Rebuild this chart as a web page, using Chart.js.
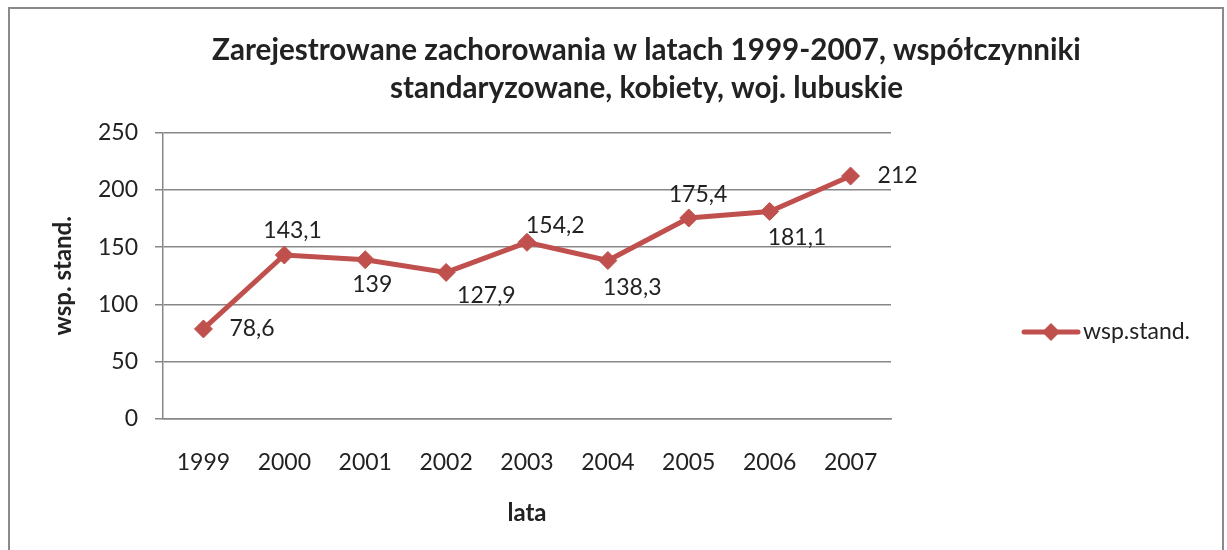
<!DOCTYPE html>
<html>
<head>
<meta charset="utf-8">
<script src="https://cdn.jsdelivr.net/npm/chart.js@4/dist/chart.umd.min.js"></script>
<style>
  html, body { margin: 0; padding: 0; background: #fff; }
  #wrap { position: absolute; left: 0; top: 0; width: 1227px; height: 550px; }
</style>
</head>
<body>
<div id="wrap"><canvas id="chart"></canvas></div>
<script>
// dane z wykresu
const years = ['1999', '2000', '2001', '2002', '2003', '2004', '2005', '2006', '2007'];
const wspStand = [78.6, 143.1, 139, 127.9, 154.2, 138.3, 175.4, 181.1, 212];
const yTicks = [0, 50, 100, 150, 200, 250];
const seriesName = 'wsp.stand.';
const chartTitle = ['Zarejestrowane zachorowania w latach 1999-2007, współczynniki', 'standaryzowane, kobiety, woj. lubuskie'];

// przesunięcia etykiet danych względem punktu [dx lewej krawędzi, dy środka]
const labelOffsets = [[26, 0], [-21, -24], [-13, 25], [11, 23], [-1, -17], [-5, 27], [-20, -23], [-2, 26], [27, 0]];

const RED = '#C0504D';
const GRID = '#878787';
const TEXT = '#222222';
const FONT = 'Lato, Calibri, sans-serif';

/**
 * Ramka wokół całego wykresu
 */
const borderPlugin = {
    id: 'outerBorder',
    beforeDraw(chart) {
        const ctx = chart.ctx;
        ctx.save();
        ctx.strokeStyle = '#8a8a8a';
        ctx.lineWidth = 2;
        ctx.strokeRect(9, 8, 1214, 570);
        ctx.restore();
    }
};

/**
 * Etykiety wartości przy punktach (format z przecinkiem)
 */
const valueLabels = {
    id: 'valueLabels',
    afterDatasetsDraw(chart) {
        const ctx = chart.ctx;
        const meta = chart.getDatasetMeta(0);
        ctx.save();
        ctx.font = '23px ' + FONT;
        ctx.fillStyle = TEXT;
        ctx.textAlign = 'left';
        ctx.textBaseline = 'middle';
        meta.data.forEach((pt, i) => {
            const { x, y } = pt.getProps(['x', 'y'], true);
            const txt = String(wspStand[i]).replace('.', ',');
            const off = labelOffsets[i];
            ctx.fillText(txt, x + off[0], y + off[1]);
        });
        ctx.restore();
    }
};

/**
 * Legenda po prawej stronie (rysowana ręcznie)
 */
const sideLegend = {
    id: 'sideLegend',
    afterDraw(chart) {
        const ctx = chart.ctx;
        const ds = chart.data.datasets[0];
        const y = 332;
        ctx.save();
        ctx.strokeStyle = ds.borderColor;
        ctx.lineWidth = 5;
        ctx.lineCap = 'round';
        ctx.beginPath();
        ctx.moveTo(1024, y);
        ctx.lineTo(1078, y);
        ctx.stroke();
        ctx.fillStyle = ds.pointBackgroundColor;
        ctx.beginPath();
        ctx.moveTo(1051, y - 9);
        ctx.lineTo(1060, y);
        ctx.lineTo(1051, y + 9);
        ctx.lineTo(1042, y);
        ctx.closePath();
        ctx.fill();
        ctx.font = '23px ' + FONT;
        ctx.fillStyle = TEXT;
        ctx.textBaseline = 'middle';
        ctx.fillText(ds.label, 1083, y);
        ctx.restore();
    }
};

const ctx = document.getElementById('chart');
new Chart(ctx, {
    type: 'line',
    data: {
        labels: years,
        datasets: [{
            label: seriesName,
            data: wspStand,
            borderColor: RED,
            backgroundColor: RED,
            borderWidth: 5,
            tension: 0,
            pointStyle: 'rectRot',
            pointRadius: 9,
            pointHoverRadius: 9,
            pointBackgroundColor: RED,
            pointBorderColor: RED,
            pointBorderWidth: 1
        }]
    },
    options: {
        responsive: true,
        maintainAspectRatio: false,
        animation: false,
        events: [],
        layout: { padding: { left: 66, right: 0, top: 0, bottom: 0 } },
        plugins: {
            legend: { display: false },
            tooltip: { enabled: false },
            title: {
                display: true,
                text: chartTitle,
                color: TEXT,
                font: { family: FONT, size: 29.6, weight: 'bold', lineHeight: '38px' },
                padding: { top: 31, bottom: 25.5 }
            }
        },
        scales: {
            x: {
                offset: true,
                grid: { display: false, drawTicks: false },
                border: { display: true, color: GRID, width: 1.5 },
                ticks: { color: TEXT, font: { family: FONT, size: 23 }, padding: 30, maxRotation: 0 },
                title: {
                    display: true,
                    text: 'lata',
                    color: TEXT,
                    font: { family: FONT, size: 24, weight: 'bold' },
                    padding: { top: 0, bottom: 22.6 }
                },
                afterFit(scale) { scale.height = 131; }
            },
            y: {
                min: 0,
                max: 250,
                afterBuildTicks(scale) { scale.ticks = yTicks.map(v => ({ value: v })); },
                grid: { color: GRID, lineWidth: 1.5, tickLength: 8, drawTicks: true },
                border: { display: true, color: GRID, width: 1.5 },
                ticks: { color: TEXT, font: { family: FONT, size: 23 }, padding: 17 },
                title: {
                    display: true,
                    text: 'wsp. stand.',
                    color: TEXT,
                    font: { family: FONT, size: 24, weight: 'bold' },
                    padding: { top: -16.9, bottom: 0 }
                },
                afterFit(scale) { scale.width = 97; }
            },
            // pusta oś po prawej, rezerwuje miejsce na legendę
            legendSpace: {
                type: 'linear',
                position: 'right',
                display: true,
                grid: { display: false },
                border: { display: false },
                ticks: { display: false },
                afterFit(scale) { scale.width = 336; }
            }
        }
    },
    plugins: [borderPlugin, valueLabels, sideLegend]
});
</script>
</body>
</html>
